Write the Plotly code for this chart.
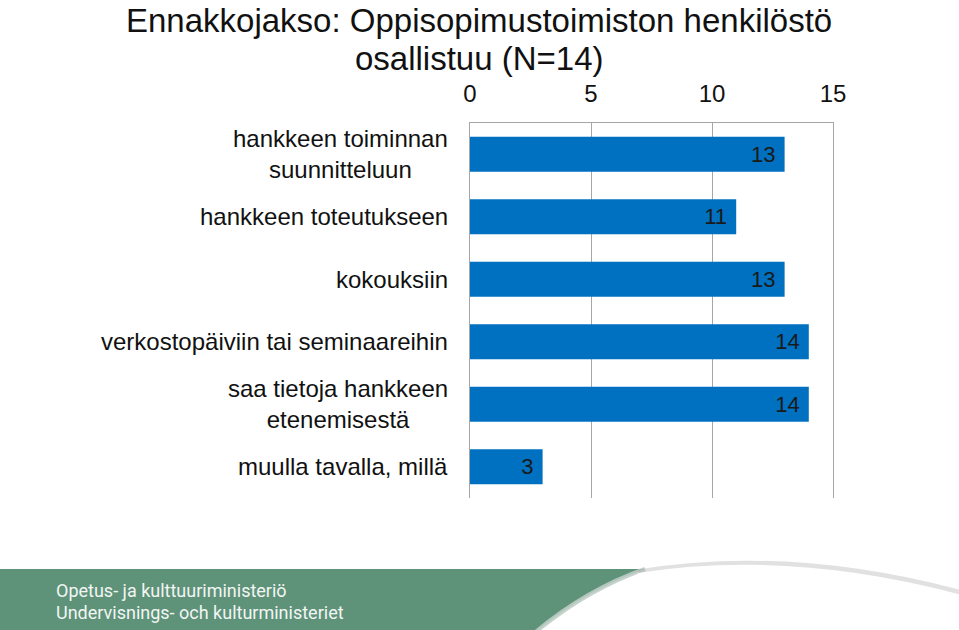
import plotly.graph_objects as go

categories = [
    "hankkeen toiminnan<br>suunnitteluun",
    "hankkeen toteutukseen",
    "kokouksiin",
    "verkostopäiviin tai seminaareihin",
    "saa tietoja hankkeen<br>etenemisestä",
    "muulla tavalla, millä",
]
values = [13, 11, 13, 14, 14, 3]
tick_vals = [0, 5, 10, 15]
title_lines = ["Ennakkojakso: Oppisopimustoimiston henkilöstö", "osallistuu (N=14)"]
footer_lines = ["Opetus- ja kulttuuriministeriö", "Undervisnings- och kulturministeriet"]

W, H = 959, 630
ML, MR, MT, MB = 470, 126, 123, 132
PW, PH = W - ML - MR, H - MT - MB


def X(px):
    return (px - ML) / PW


def Y(py):
    return 1 - (py - MT) / PH


fig = go.Figure()
fig.add_trace(go.Bar(
    x=values, y=categories, orientation="h",
    marker=dict(color="#0070C0", line=dict(width=0)),
    text=[f"{v}\u00a0" for v in values], textposition="inside", insidetextanchor="end",
    textfont=dict(family="Liberation Sans, Arial", size=22, color="#1a1a1a"),
    cliponaxis=False,
))

annotations = []
for c in categories:
    annotations.append(dict(
        x=0, xref="paper", y=c, yref="y", xanchor="right", yanchor="middle",
        xshift=-20, text=c, showarrow=False, align="center",
        font=dict(family="Liberation Sans, Arial", size=24, color="#111111"),
    ))

for i, line in enumerate(title_lines):
    annotations.append(dict(
        x=X(479), xref="paper", y=Y(20 + i * 39), yref="paper", xanchor="center", yanchor="middle",
        text=line, showarrow=False, align="center",
        font=dict(family="Liberation Sans, Arial", size=33, color="#111111"),
    ))

for i, line in enumerate(footer_lines):
    annotations.append(dict(
        x=X(54), xref="paper", y=Y(590 + i * 22), yref="paper", xanchor="left", yanchor="middle",
        text=line, showarrow=False, align="left",
        font=dict(family="Roboto", size=18, color="#f2f6f4"),
    ))

shapes = [
    dict(type="path", xref="paper", yref="paper", layer="above",
         path=f"M {X(-5)},{Y(569)} L {X(645)},{Y(569)} Q {X(585)},{Y(590)} {X(532)},{Y(635)} L {X(-5)},{Y(635)} Z",
         fillcolor="#5E9279", line=dict(width=0)),
    dict(type="path", xref="paper", yref="paper", layer="above",
         path=f"M {X(645)},{Y(569)} Q {X(585)},{Y(590)} {X(532)},{Y(635)}",
         line=dict(color="rgba(190,205,198,0.9)", width=4)),
    dict(type="path", xref="paper", yref="paper", layer="above",
         path=f"M {X(638)},{Y(573)} Q {X(790)},{Y(548)} {X(962)},{Y(594)}",
         line=dict(color="rgba(170,170,170,0.35)", width=7)),
    dict(type="path", xref="paper", yref="paper", layer="above",
         path=f"M {X(638)},{Y(575)} Q {X(790)},{Y(551)} {X(962)},{Y(597)}",
         line=dict(color="#ffffff", width=4)),
]

fig.update_layout(
    width=W, height=H,
    margin=dict(l=ML, r=MR, t=MT, b=MB, pad=0),
    paper_bgcolor="white", plot_bgcolor="white",
    showlegend=False, bargap=0.44,
    annotations=annotations, shapes=shapes,
    xaxis=dict(
        side="top", range=[0, 15], tickvals=tick_vals, ticks="",
        showgrid=True, gridcolor="#A6A6A6", gridwidth=1, zeroline=False,
        showline=True, linecolor="#A6A6A6", linewidth=1,
        tickfont=dict(family="Liberation Sans, Arial", size=24, color="#111111"),
        ticklabelstandoff=10,
    ),
    yaxis=dict(
        autorange="reversed", showticklabels=False, ticks="", showgrid=False,
        zeroline=False, showline=True, mirror=True, linecolor="#A6A6A6", linewidth=1,
    ),
)

fig.write_html("out.html")
